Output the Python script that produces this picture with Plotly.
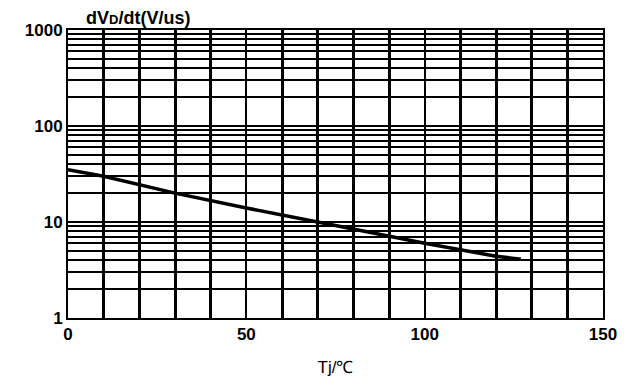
import plotly.graph_objects as go

# Data
tj = [0, 10, 30, 50, 75, 100, 120, 127]
dvdt = [35, 30, 20, 14, 9.2, 6.0, 4.4, 4.1]

x_ticks = [0, 50, 100, 150]
x_grid = [10, 20, 30, 40, 60, 70, 80, 90, 110, 120, 130, 140]
y_ticks = [1, 10, 100, 1000]
y_ticklabels = ["1", "10", "100", "1000"]
y_grid = [2, 3, 4, 5, 6, 7, 8, 9, 20, 30, 40, 50, 60, 70, 80, 90,
          200, 300, 400, 500, 600, 700, 800, 900]

FONT = "Liberation Sans"
boldfont = dict(family=FONT, size=17, color="black", weight="bold")

fig = go.Figure()
fig.add_trace(go.Scatter(x=tj, y=dvdt, mode="lines",
                         line=dict(color="black", width=3.5)))

fig.update_layout(
    width=634, height=381,
    margin=dict(l=68, r=31, t=30, b=63),
    paper_bgcolor="white", plot_bgcolor="white",
    showlegend=False,
    font=dict(family=FONT, color="black"),
    xaxis=dict(
        range=[0, 150], tickvals=x_ticks, ticktext=[str(v) for v in x_ticks],
        showgrid=True, gridcolor="black", gridwidth=2,
        minor=dict(tickvals=x_grid, showgrid=True, gridcolor="black", gridwidth=2.5),
        showline=True, linecolor="black", linewidth=2, mirror=True,
        ticks="", zeroline=False, automargin=False,
        tickfont=boldfont,
        title=dict(text="Tj/℃", font=dict(family=FONT, size=17, color="black"),
                   standoff=18),
    ),
    yaxis=dict(
        type="log", range=[0, 3], tickvals=y_ticks, ticktext=y_ticklabels,
        showgrid=True, gridcolor="black", gridwidth=2,
        minor=dict(tickvals=y_grid, showgrid=True, gridcolor="black", gridwidth=2),
        showline=True, linecolor="black", linewidth=2, mirror=True,
        ticks="", zeroline=False, automargin=False,
        tickfont=boldfont,
    ),
    annotations=[dict(
        text="dV<span style='font-size:13px'>D</span>/dt(V/us)", xref="paper", yref="paper",
        x=0.13, y=1.0, xanchor="center", yanchor="bottom", showarrow=False,
        font=dict(family=FONT, size=18, color="black", weight="bold"),
    )],
)

fig.write_html("out.html")
